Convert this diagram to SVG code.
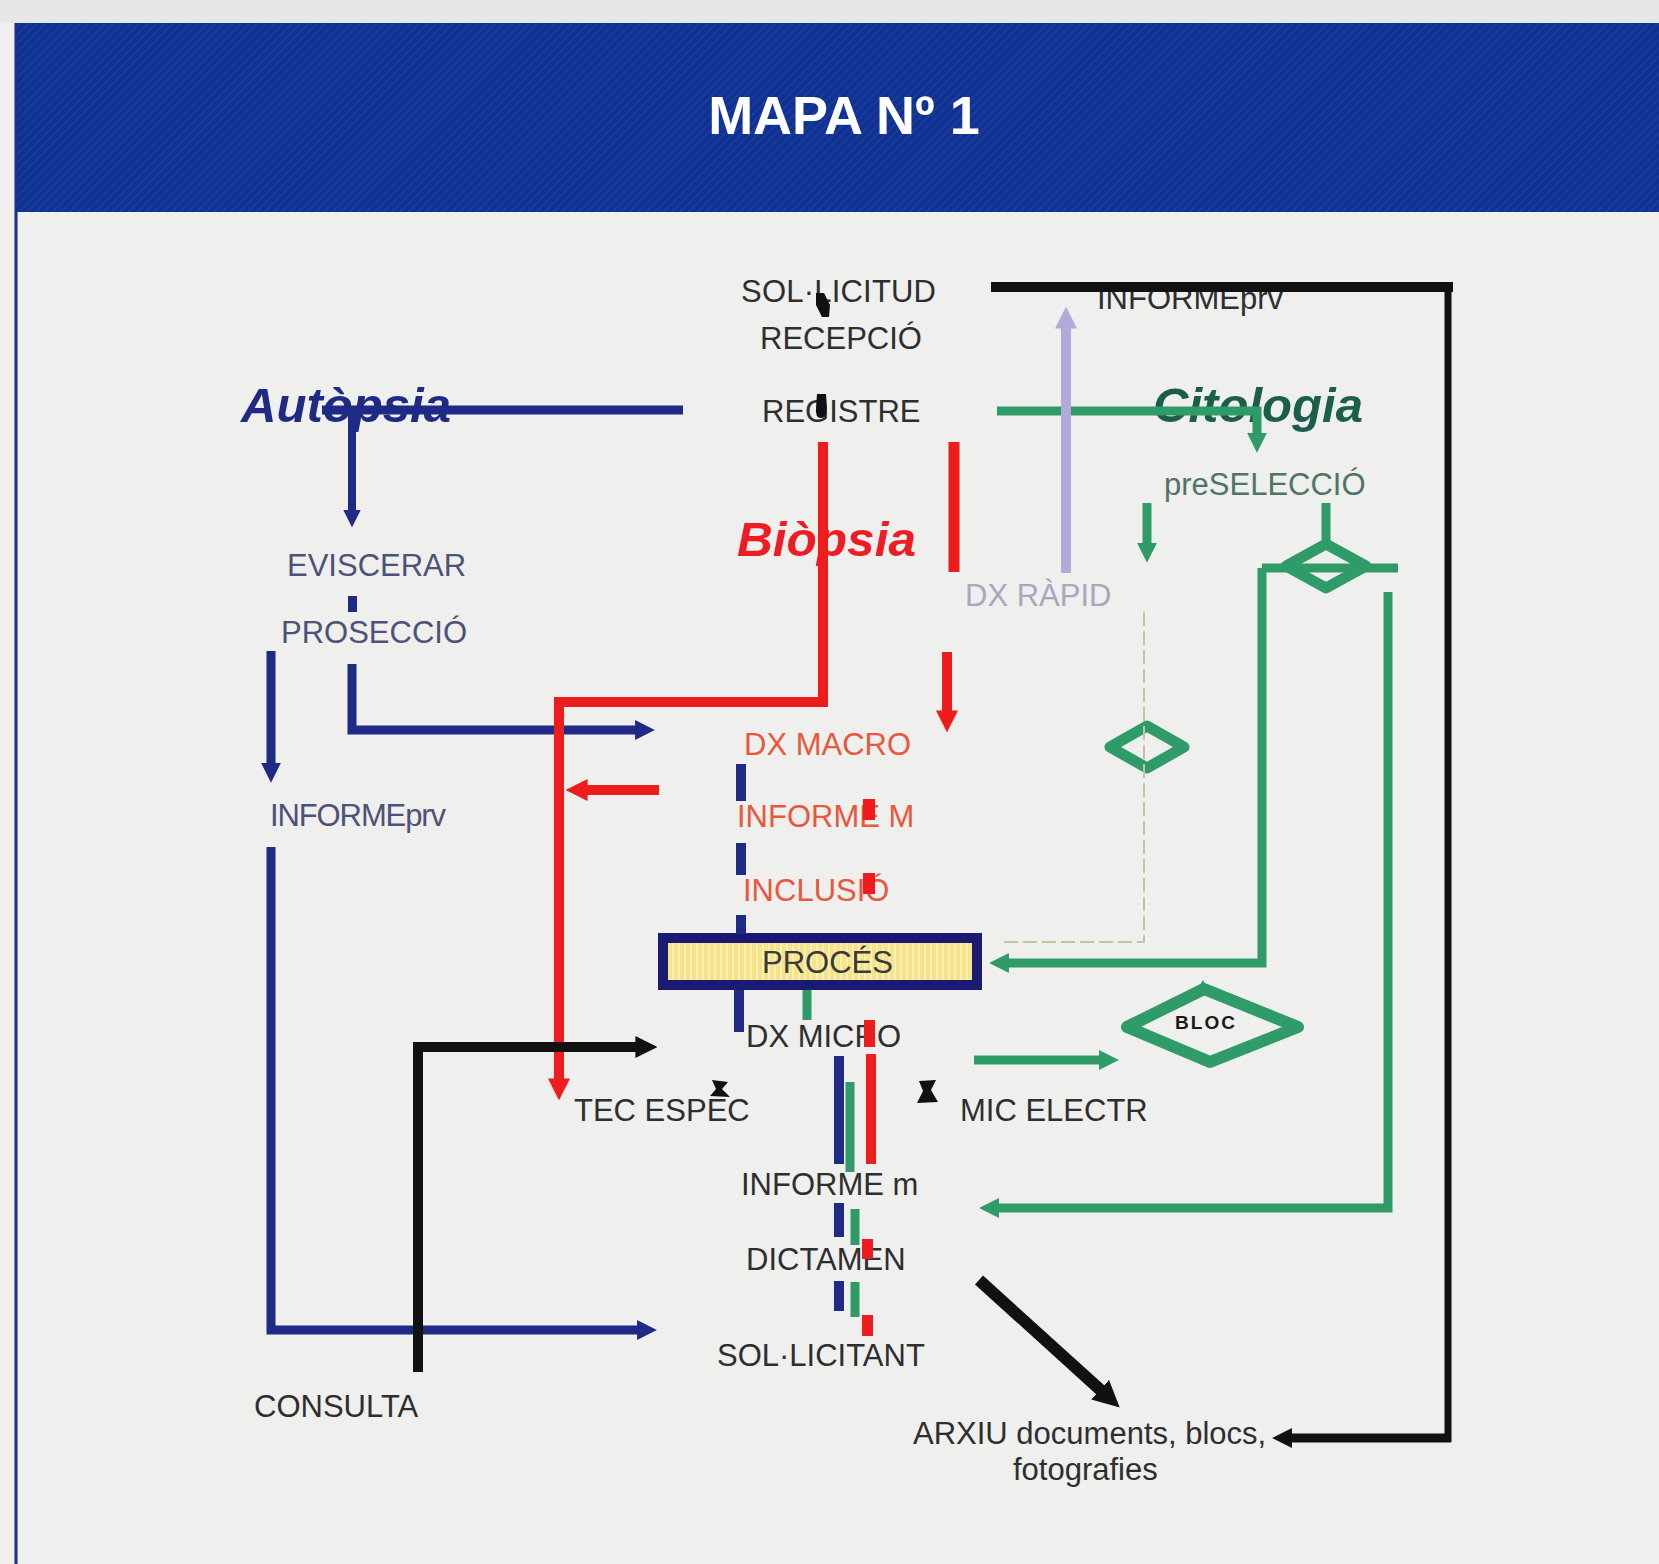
<svg xmlns="http://www.w3.org/2000/svg" width="1659" height="1564" viewBox="0 0 1659 1564">
  <style>
    .t { font-family: "Liberation Sans", Arial, sans-serif; font-size: 31px; fill: #2e2e2e; }
    .big { font-family: "Liberation Sans", Arial, sans-serif; font-size: 49px; font-weight: bold; font-style: italic; }
    .aut { fill: #4d5278; }
    .bio { fill: #e8583c; }
    .cit { fill: #4f7565; }
    .navy { stroke: #1f2a86; fill: none; }
    .red { stroke: #ee1c1c; fill: none; }
    .grn { stroke: #2e9b69; fill: none; }
    .blk { stroke: #111111; fill: none; }
  </style>
  <defs>
    <pattern id="hatch" width="6" height="6" patternUnits="userSpaceOnUse" patternTransform="rotate(45)">
      <rect width="6" height="6" fill="#0e3192"/>
      <rect width="2" height="6" fill="#183b9c"/>
    </pattern>
    <pattern id="stripes" width="6" height="10" patternUnits="userSpaceOnUse">
      <rect width="6" height="10" fill="#f6e48a"/>
      <rect width="2" height="10" fill="#fbefb4"/>
    </pattern>
    <marker id="arN" viewBox="0 0 10 10" refX="3" refY="5" markerWidth="2.2" markerHeight="2.2" orient="auto"><path d="M0,0 L10,5 L0,10 z" fill="#1f2a86"/></marker>
    <marker id="arR" viewBox="0 0 10 10" refX="3" refY="5" markerWidth="2.2" markerHeight="2.2" orient="auto"><path d="M0,0 L10,5 L0,10 z" fill="#ee1c1c"/></marker>
    <marker id="arG" viewBox="0 0 10 10" refX="3" refY="5" markerWidth="2.2" markerHeight="2.2" orient="auto"><path d="M0,0 L10,5 L0,10 z" fill="#2e9b69"/></marker>
    <marker id="arK" viewBox="0 0 10 10" refX="3" refY="5" markerWidth="2.2" markerHeight="2.2" orient="auto"><path d="M0,0 L10,5 L0,10 z" fill="#111111"/></marker>
    <marker id="arL" viewBox="0 0 10 10" refX="3" refY="5" markerWidth="2.2" markerHeight="2.2" orient="auto"><path d="M0,0 L10,5 L0,10 z" fill="#b1aada"/></marker>
  </defs>

  <!-- page and title band -->
  <rect x="0" y="0" width="1659" height="1564" fill="#efefee"/>
  <rect x="0" y="0" width="1659" height="23" fill="#e7e7e7"/>
  <rect x="15" y="23" width="1644" height="189" fill="url(#hatch)"/>
  <line x1="16" y1="23" x2="16" y2="1564" stroke="#1c2f86" stroke-width="3"/>
  <text x="844" y="134" text-anchor="middle" font-family="'Liberation Sans', Arial, sans-serif" font-size="54" font-weight="bold" fill="#ffffff">MAPA Nº 1</text>

  <!-- category headings -->
  <g id="autopsia"><text class="big" x="241" y="422" fill="#1e2a84" textLength="210" lengthAdjust="spacingAndGlyphs">Autòpsia</text></g>
  <g id="biopsia"><text class="big" x="737" y="556" fill="#ee1c24" textLength="179" lengthAdjust="spacingAndGlyphs">Biòpsia</text></g>
  <g id="citologia"><text class="big" x="1153" y="422" fill="#1c5e4c" textLength="210" lengthAdjust="spacingAndGlyphs">Citologia</text></g>

  <!-- process steps -->
  <g id="sollicitud"><text class="t" x="741" y="302" textLength="195">SOL·LICITUD</text></g>
  <g id="recepcio"><text class="t" x="760" y="349">RECEPCIÓ</text></g>
  <g id="registre"><text class="t" x="762" y="422">REGISTRE</text></g>
  <g id="informe-prv-top"><text class="t" x="1097" y="309" font-size="30">INFORMEprv</text></g>
  <g id="preseleccio"><text class="t cit" x="1164" y="495">preSELECCIÓ</text></g>
  <g id="dx-rapid"><text class="t" x="965" y="606" style="fill:#aaa6bd">DX RÀPID</text></g>
  <g id="eviscerar"><text class="t aut" x="287" y="576">EVISCERAR</text></g>
  <g id="proseccio"><text class="t aut" x="281" y="643">PROSECCIÓ</text></g>
  <g id="informe-prv"><text class="t aut" x="270" y="826" font-size="30" textLength="176">INFORMEprv</text></g>
  <g id="dx-macro"><text class="t bio" x="744" y="755">DX MACRO</text></g>
  <g id="informe-M"><text class="t bio" x="737" y="827">INFORME M</text></g>
  <g id="inclusio"><text class="t bio" x="743" y="901">INCLUSIÓ</text></g>
  <g id="proces">
    <rect x="663" y="938" width="314" height="47" fill="url(#stripes)" stroke="#1b1a72" stroke-width="10"/>
    <text class="t" x="762" y="973" style="fill:#3a3a3a">PROCÉS</text>
  </g>
  <g id="dx-micro"><text class="t" x="746" y="1047">DX MICRO</text></g>
  <g id="tec-espec"><text class="t" x="574" y="1121">TEC ESPEC</text></g>
  <g id="mic-electr"><text class="t" x="960" y="1121">MIC ELECTR</text></g>
  <g id="informe-m"><text class="t" x="741" y="1195">INFORME m</text></g>
  <g id="dictamen"><text class="t" x="746" y="1270">DICTAMEN</text></g>
  <g id="sollicitant"><text class="t" x="717" y="1366">SOL·LICITANT</text></g>
  <g id="consulta"><text class="t" x="254" y="1417">CONSULTA</text></g>
  <g id="arxiu">
    <text class="t" x="913" y="1444">ARXIU documents, blocs,</text>
    <text class="t" x="1013" y="1480">fotografies</text>
  </g>
  <g id="bloc">
    <polygon points="1127,1027 1204,989 1298,1027 1210,1062" fill="none" stroke="#2e9b69" stroke-width="12" stroke-linejoin="round"/>
    <path d="M1196,992 L1203,980 L1210,992 z" fill="#2e9b69"/>
    <text x="1175" y="1029" font-family="'Liberation Sans', Arial, sans-serif" font-size="19" font-weight="bold" fill="#1a1a1a" textLength="60">BLOC</text>
  </g>
  <g id="decisio-preseleccio">
    <polygon points="1286,566 1326,544 1366,566 1326,588" fill="none" stroke="#2e9b69" stroke-width="11" stroke-linejoin="round"/>
  </g>
  <g id="decisio-rapid">
    <polygon points="1110,747 1147,726 1184,747 1147,768" fill="none" stroke="#2e9b69" stroke-width="11" stroke-linejoin="round"/>
  </g>

  <!-- connectors -->
  <g id="connectors">
    <!-- autopsy flow -->
    <path class="navy" d="M683,410 H322" stroke-width="9"/>
    <path class="navy" d="M352,410 V515" stroke-width="8" marker-end="url(#arN)"/>
    <rect x="348" y="596" width="9" height="16" fill="#1f2a86"/>
    <path class="navy" d="M352,664 V730 H641" stroke-width="9" marker-end="url(#arN)"/>
    <path class="navy" d="M271,651 V769" stroke-width="9" marker-end="url(#arN)"/>
    <path class="navy" d="M271,847 V1330 H643" stroke-width="9" marker-end="url(#arN)"/>
    <g stroke="#1f2a86" stroke-width="10">
      <line x1="741" y1="764" x2="741" y2="801"/>
      <line x1="741" y1="843" x2="741" y2="875"/>
      <line x1="741" y1="915" x2="741" y2="934"/>
      <line x1="739" y1="990" x2="739" y2="1032"/>
      <line x1="839" y1="1056" x2="839" y2="1164"/>
      <line x1="839" y1="1203" x2="839" y2="1237"/>
      <line x1="839" y1="1281" x2="839" y2="1311"/>
    </g>

    <!-- biopsy flow -->
    <path class="red" d="M823,442 V702 H559 V1085" stroke-width="10" marker-end="url(#arR)"/>
    <path class="red" d="M659,790 H581" stroke-width="10" marker-end="url(#arR)"/>
    <path class="red" d="M954,442 V572" stroke-width="11"/>
    <path class="red" d="M947,652 V717" stroke-width="10" marker-end="url(#arR)"/>
    <g fill="#ee1c1c">
      <rect x="863" y="799" width="12" height="21"/>
      <rect x="863" y="873" width="12" height="21"/>
      <rect x="864" y="1020" width="11" height="27"/>
      <rect x="866" y="1054" width="10" height="110"/>
      <rect x="862" y="1239" width="11" height="20"/>
      <rect x="862" y="1315" width="11" height="21"/>
    </g>

    <!-- cytology flow -->
    <path class="grn" d="M997,411 H1257 V439" stroke-width="9" marker-end="url(#arG)"/>
    <path class="grn" d="M1147,503 V549" stroke-width="9" marker-end="url(#arG)"/>
    <path class="grn" d="M1326,503 V544" stroke-width="9"/>
    <path class="grn" d="M1262,568 H1398" stroke-width="9"/>
    <path class="grn" d="M1262,568 V963 H1003" stroke-width="9" marker-end="url(#arG)"/>
    <path class="grn" d="M1388,592 V1208 H993" stroke-width="9" marker-end="url(#arG)"/>
    <path class="grn" d="M974,1060 H1105" stroke-width="9" marker-end="url(#arG)"/>
    <path d="M1144,612 V942 H1004" fill="none" stroke="#c6c3a0" stroke-width="2" stroke-dasharray="14 5"/>
    <g stroke="#2e9b69" stroke-width="9">
      <line x1="807" y1="990" x2="807" y2="1020"/>
      <line x1="850" y1="1082" x2="850" y2="1172"/>
      <line x1="855" y1="1209" x2="855" y2="1245"/>
      <line x1="855" y1="1282" x2="855" y2="1317"/>
    </g>

    <!-- rapid diagnosis report -->
    <path d="M1066,573 V322" fill="none" stroke="#b1aada" stroke-width="10" marker-end="url(#arL)"/>

    <!-- archive and consultation -->
    <path class="blk" d="M991,287 H1453" stroke-width="10"/>
    <path class="blk" d="M1448,283 V1442" stroke-width="7"/>
    <path class="blk" d="M1451,1438 H1286" stroke-width="9" marker-end="url(#arK)"/>
    <path class="blk" d="M418,1372 V1047 H642" stroke-width="10" marker-end="url(#arK)"/>
    <path class="blk" d="M979,1280 L1106,1395" stroke-width="12" marker-end="url(#arK)"/>
    <g fill="#111111">
      <path d="M816,293 L824,293 L830,305 L829,317 L822,317 L816,305 z"/>
      <path d="M817,394 L826,394 L827,408 Q827,418 821,418 Q815,418 816,408 z"/>
      <polygon points="712,1080 728,1082 722,1089 730,1097 710,1096 716,1089"/>
      <polygon points="919,1081 936,1080 931,1090 938,1102 917,1103 923,1091"/>
    </g>
  </g>
</svg>
